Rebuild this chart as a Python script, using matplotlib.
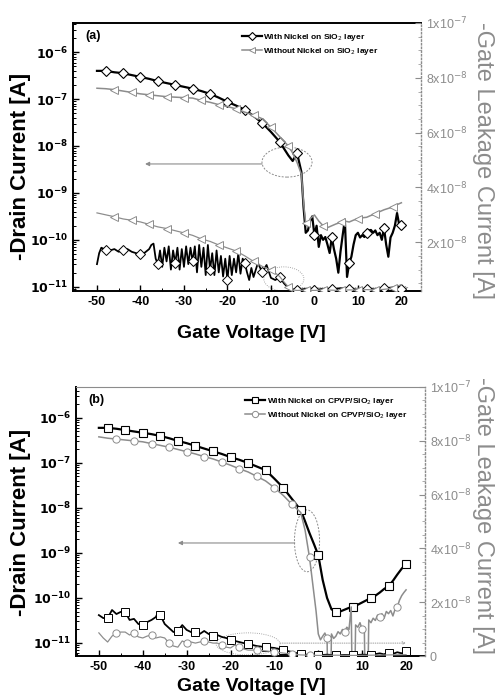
import matplotlib
matplotlib.use("Agg")
import matplotlib.pyplot as plt
import numpy as np
from matplotlib.lines import Line2D
from matplotlib.patches import Ellipse
from matplotlib.ticker import (FixedLocator, FuncFormatter, MultipleLocator,
                               NullFormatter)

plt.rcParams['font.family'] = ['Liberation Sans', 'DejaVu Sans']

# ---- panel (a): SiO2 ----  drain current as (V, log10 I), leakage as (V, I / 1e-8)
drain_a_with = [(-50, -6.40), (-48, -6.40), (-46, -6.43), (-44, -6.45), (-42, -6.49), (-40, -6.53),
                (-38, -6.57), (-36, -6.62), (-34, -6.66), (-32, -6.70), (-30, -6.74), (-28, -6.78),
                (-26, -6.83), (-24, -6.89), (-22, -6.97), (-20, -7.06), (-18, -7.14), (-16, -7.23),
                (-14, -7.36), (-12, -7.51), (-10, -7.70), (-8, -7.91), (-6, -8.20), (-5, -8.32),
                (-4, -8.15), (-3, -8.55), (-2.5, -9.30), (-2, -9.85), (-1.5, -9.80), (-1, -9.60),
                (-0.5, -9.50), (0, -9.90), (0.5, -9.70), (1, -10.15), (1.5, -9.90), (2, -10.00),
                (2.5, -9.94), (3, -10.10), (3.5, -10.28), (4, -9.95), (4.5, -10.20), (5, -10.40),
                (5.5, -10.70), (6, -10.25), (6.5, -9.90), (7, -9.57), (7.5, -10.79), (8, -10.50),
                (8.5, -10.36), (9, -10.10), (9.5, -9.90), (10, -9.85), (10.5, -9.95), (11, -9.90),
                (11.5, -9.94), (12, -9.85), (12.5, -9.80), (13, -9.79), (13.5, -9.85), (14, -9.80),
                (14.5, -9.90), (15, -9.85), (15.5, -10.00), (16, -9.75), (16.5, -10.10), (17, -10.36),
                (17.5, -9.95), (18, -9.85), (18.5, -9.70), (19, -9.43), (19.5, -9.68), (20, -9.68)]
drain_a_without = [(-50, -6.77), (-48, -6.78), (-46, -6.80), (-44, -6.83), (-42, -6.86), (-40, -6.89),
                   (-38, -6.91), (-36, -6.93), (-34, -6.95), (-32, -6.96), (-30, -6.97), (-28, -6.98),
                   (-26, -7.03), (-24, -7.07), (-22, -7.12), (-20, -7.16), (-18, -7.21), (-16, -7.28),
                   (-14, -7.34), (-12, -7.42), (-10, -7.60), (-8, -7.80), (-6, -8.00), (-5, -8.15),
                   (-4, -8.35), (-3, -8.60), (-2.5, -9.20), (-2, -9.65), (-1.5, -9.72), (-1, -9.55),
                   (0, -9.47), (1, -9.60), (2, -9.70), (3, -9.74), (4, -9.70), (5, -9.66), (6, -9.63),
                   (7, -9.60), (8, -9.62), (9, -9.58), (10, -9.55), (11, -9.53), (12, -9.52),
                   (13, -9.48), (14, -9.45), (15, -9.40), (16, -9.36), (17, -9.33), (18, -9.30),
                   (19, -9.25), (20, -9.21)]
leak_a_with = [(-50, 1.20), (-49.5, 1.60), (-49, 1.80), (-48, 1.72), (-47, 1.70), (-46, 1.75),
               (-45, 1.65), (-44, 1.72), (-43, 1.75), (-42, 1.65), (-41, 1.60), (-40, 1.57),
               (-39, 1.62), (-38, 1.75), (-37.5, 1.90), (-37, 1.95), (-36.5, 1.40), (-36, 1.20),
               (-35.5, 1.70), (-35, 1.10), (-34.5, 1.80), (-34, 1.30), (-33.5, 1.85), (-33, 1.00),
               (-32.5, 1.70), (-32, 1.25), (-31.5, 1.80), (-31, 1.00), (-30.5, 1.75), (-30, 1.10),
               (-29.5, 1.85), (-29, 1.20), (-28.5, 1.80), (-28, 1.30), (-27.5, 1.85), (-27, 0.90),
               (-26.5, 1.90), (-26, 1.10), (-25.5, 1.80), (-25, 0.80), (-24.5, 1.90), (-24, 1.00),
               (-23.5, 1.60), (-23, 0.80), (-22.5, 1.70), (-22, 0.90), (-21.5, 1.50), (-21, 0.75),
               (-20.5, 1.40), (-20, 0.62), (-19.5, 1.50), (-19, 0.80), (-18.5, 1.40), (-18, 0.90),
               (-17.5, 1.60), (-17, 0.85), (-16.5, 1.40), (-16, 1.24), (-15.5, 0.90), (-15, 0.62),
               (-14.5, 1.06), (-14, 0.73), (-13, 1.24), (-12, 0.91), (-11, 1.17), (-10, 0.70),
               (-9, 0.62), (-8, 0.73), (-7, 0.50), (-6, 0.33), (-5, 0.20), (-4, 0.25), (-2, 0.30),
               (0, 0.25), (2, 0.30), (4, 0.28), (6, 0.32), (8, 0.30), (10, 0.27), (12, 0.30),
               (14, 0.28), (16, 0.32), (18, 0.35), (19, 0.40), (20, 0.30)]
leak_a_without = [(-50, 3.07), (-48, 3.00), (-46, 2.93), (-44, 2.85), (-42, 2.80), (-40, 2.74),
                  (-38, 2.65), (-36, 2.56), (-34, 2.50), (-32, 2.42), (-30, 2.34), (-28, 2.25),
                  (-26, 2.12), (-24, 2.03), (-22, 1.90), (-20, 1.79), (-18, 1.68), (-16, 1.50),
                  (-14, 1.30), (-12, 1.12), (-10, 0.98), (-9, 0.88), (-8, 0.75), (-7, 0.55),
                  (-6, 0.37), (-5, 0.26), (-4, 0.24), (-2, 0.25), (0, 0.24), (2, 0.26), (4, 0.25),
                  (6, 0.24), (8, 0.26), (10, 0.25), (12, 0.27), (14, 0.26), (16, 0.28), (17, 0.30),
                  (18, 0.34), (19, 0.40), (20, 0.45)]

# ---- panel (b): CPVP/SiO2 ----
drain_b_with = [(-50, -6.22), (-48, -6.22), (-46, -6.24), (-44, -6.27), (-42, -6.30), (-40, -6.33),
                (-38, -6.36), (-36, -6.40), (-34, -6.45), (-32, -6.51), (-30, -6.56), (-28, -6.62),
                (-26, -6.68), (-24, -6.74), (-22, -6.80), (-20, -6.87), (-18, -6.93), (-16, -7.00),
                (-14, -7.08), (-12, -7.16), (-10, -7.35), (-8, -7.55), (-6, -7.80), (-4, -8.05),
                (-3, -8.30), (-2, -8.56), (-1, -8.80), (0, -9.05), (1, -9.60), (2, -10.00),
                (3, -10.25), (4, -10.32), (5, -10.30), (6, -10.26), (7, -10.22), (8, -10.20),
                (9, -10.15), (10, -10.10), (11, -10.05), (12, -10.00), (13, -9.95), (14, -9.88),
                (15, -9.80), (16, -9.74), (17, -9.62), (18, -9.48), (19, -9.35), (20, -9.24)]
drain_b_without = [(-50, -6.42), (-48, -6.45), (-46, -6.47), (-44, -6.49), (-42, -6.51), (-40, -6.53),
                   (-38, -6.57), (-36, -6.61), (-34, -6.65), (-32, -6.70), (-30, -6.75), (-28, -6.80),
                   (-26, -6.86), (-24, -6.91), (-22, -6.98), (-20, -7.05), (-18, -7.13), (-16, -7.20),
                   (-14, -7.30), (-12, -7.40), (-10, -7.55), (-8, -7.72), (-6, -7.92), (-4, -8.10),
                   (-3, -8.50), (-2, -9.10), (-1.5, -9.50), (-1, -9.90), (-0.5, -10.30), (0, -10.80),
                   (0.5, -10.93), (1, -10.85), (1.5, -10.78), (2, -10.90), (2.5, -14), (3, -10.80),
                   (3.5, -10.90), (4, -10.85), (4.5, -10.75), (5, -10.80), (5.5, -10.70), (6, -10.75),
                   (6.5, -10.65), (7, -10.70), (7.5, -10.20), (8, -14), (8.5, -10.60), (9, -10.65),
                   (9.5, -10.55), (10, -10.70), (10.5, -10.75), (11, -14), (11.5, -10.49),
                   (12, -10.55), (12.5, -10.45), (13, -10.50), (13.5, -10.38), (14, -10.42),
                   (14.5, -10.35), (15, -10.45), (15.5, -10.30), (16, -10.35), (16.5, -10.28),
                   (17, -10.40), (17.5, -10.25), (18, -10.20), (18.5, -10.05), (19, -9.95),
                   (19.5, -9.88), (20, -9.82)]
leak_b_with = [(-50, 1.52), (-49, 1.41), (-48, 1.41), (-47, 1.71), (-46, 1.56), (-45, 1.64),
               (-44, 1.64), (-43, 1.34), (-42, 1.38), (-41, 1.19), (-40, 1.15), (-39, 1.26),
               (-38, 1.34), (-37, 1.45), (-36.5, 1.64), (-36, 1.52), (-35, 1.19), (-34, 1.04),
               (-33, 0.89), (-32, 0.93), (-31, 1.15), (-30, 0.97), (-29, 0.89), (-28, 0.89),
               (-27, 0.82), (-26, 0.93), (-25, 0.82), (-24, 0.74), (-23, 0.78), (-22, 0.71),
               (-21, 0.67), (-20, 0.59), (-19, 0.56), (-18, 0.52), (-17, 0.48), (-16, 0.45),
               (-15, 0.41), (-14, 0.37), (-12, 0.33), (-10, 0.30), (-8, 0.22), (-6, 0.15),
               (-4, 0.07), (-2, 0.04), (0, 0.03), (2, 0.05), (4, 0.03), (6, 0.04), (8, 0.03),
               (10, 0.05), (12, 0.04), (14, 0.10), (15, 0.06), (16, 0.12), (17, 0.08),
               (18, 0.14), (19, 0.10), (20, 0.18)]
leak_b_without = [(-50, 0.86), (-49, 0.67), (-48, 0.52), (-47, 0.74), (-46, 0.86), (-45, 0.89),
                  (-44, 0.89), (-43, 0.78), (-42, 0.86), (-41, 0.71), (-40, 0.67), (-39, 0.74),
                  (-38, 0.78), (-37, 0.67), (-36, 0.71), (-35, 0.67), (-34, 0.48), (-33, 0.37),
                  (-32, 0.33), (-31, 0.56), (-30, 0.48), (-29, 0.52), (-28, 0.48), (-27, 0.52),
                  (-26, 0.56), (-25, 0.52), (-24, 0.48), (-23, 0.48), (-22, 0.41), (-21, 0.33),
                  (-20, 0.30), (-19, 0.41), (-18, 0.33), (-17, 0.26), (-16, 0.22), (-14, 0.22),
                  (-12, 0.19), (-10, 0.15), (-8, 0.11), (-6, 0.07), (-4, 0.04), (-2, 0.03),
                  (0, 0.02), (4, 0.03), (8, 0.02), (12, 0.03), (16, 0.04), (20, 0.05)]

x_ticks = [-50, -40, -30, -20, -10, 0, 10, 20]
y_decades = [-11, -10, -9, -8, -7, -6]
r_ticks = [0, 2e-8, 4e-8, 6e-8, 8e-8, 1e-7]
GRAY = '#8c8c8c'


def split(pairs, log=False, scale=1.0):
    arr = np.array(pairs, dtype=float)
    v, y = arr[:, 0], arr[:, 1]
    y = 10 ** y if log else y * scale
    return v, y


def every(v, step, offset=0):
    return [i for i, x in enumerate(v) if (x - offset) % step == 0 and x >= -48]


def log_fmt(val, pos):
    return r'$\mathbf{10^{%d}}$' % round(np.log10(val))


def lin_fmt(val, pos):
    if val < 1e-12:
        return '0'
    e = int(np.floor(np.log10(val) + 1e-9))
    m = int(round(val / 10 ** e))
    return r'%dx10$^{%d}$' % (m, e)


def panel(ax, drains, leaks, markers, labels, tag, xlim, ylim, rlim):
    axr = ax.twinx()
    styles = [dict(color='k', lw=1.6, mec='k', mew=0.8),
              dict(color=GRAY, lw=1.1, mec=GRAY, mew=0.7)]
    handles = []
    for k in range(2):
        v, y = split(drains[k], log=True)
        ax.plot(v, y, marker=markers[k], ms=5.2, mfc='white',
                markevery=every(v, 4, 2 * k), **styles[k])
        v, y = split(leaks[k], scale=1e-8)
        axr.plot(v, y, marker=markers[k], ms=5.2, mfc='white',
                 markevery=every(v, 4, 2 * k), lw=styles[k]['lw'] * 0.8,
                 color=styles[k]['color'], mec=styles[k]['mec'], mew=0.7)
        handles.append(Line2D([], [], marker=markers[k], ms=4.5, mfc='white', **styles[k]))

    ax.set_yscale('log')
    ax.set_xlim(*xlim)
    ax.set_ylim(*ylim)
    majors = [10.0 ** d for d in y_decades]
    minors = [m * 10.0 ** d for d in [-12] + y_decades for m in range(2, 10)
              if ylim[0] <= m * 10.0 ** d <= ylim[1]]
    ax.yaxis.set_major_locator(FixedLocator(majors))
    ax.yaxis.set_minor_locator(FixedLocator(minors))
    ax.yaxis.set_major_formatter(FuncFormatter(log_fmt))
    ax.yaxis.set_minor_formatter(NullFormatter())
    ax.set_xticks(x_ticks)
    ax.set_xticklabels([str(t) for t in x_ticks], fontweight='bold', fontsize=9)
    ax.xaxis.set_minor_locator(MultipleLocator(5))
    ax.tick_params(axis='both', which='major', direction='in', length=4, width=1, labelsize=9)
    ax.tick_params(axis='both', which='minor', direction='in', length=2, width=0.7)
    ax.tick_params(axis='x', which='both', top=False)
    for s in ['left', 'bottom', 'top']:
        ax.spines[s].set_linewidth(1.4)
    ax.spines['right'].set_visible(False)

    axr.set_ylim(*rlim)
    axr.yaxis.set_major_locator(FixedLocator([t for t in r_ticks if rlim[0] <= t <= rlim[1]]))
    axr.yaxis.set_minor_locator(MultipleLocator(0.5e-8))
    axr.yaxis.set_major_formatter(FuncFormatter(lin_fmt))
    axr.tick_params(axis='y', which='major', direction='in', length=4, width=0.8,
                    colors=GRAY, labelsize=9)
    axr.tick_params(axis='y', which='minor', direction='in', length=2, width=0.5, colors=GRAY)
    for s in ['left', 'bottom', 'top']:
        axr.spines[s].set_visible(False)
    axr.spines['right'].set_color(GRAY)
    axr.spines['right'].set_linestyle(':')
    axr.spines['right'].set_linewidth(1.0)

    ax.legend(handles, labels, loc='upper left', bbox_to_anchor=(0.47, 0.985), frameon=False,
              prop=dict(size=6, weight='bold'), handlelength=2.4, handletextpad=0.2,
              labelspacing=0.35, borderaxespad=0.2)
    ax.text(0.035, 0.975, tag, transform=ax.transAxes, fontsize=9, fontweight='bold',
            va='top', ha='left')
    return axr


fig = plt.figure(figsize=(4.97, 6.99), dpi=100)
ax_a = fig.add_axes([0.147, 0.5837, 0.700, 0.3834])
ax_b = fig.add_axes([0.153, 0.0615, 0.702, 0.385])

panel(ax_a, [drain_a_with, drain_a_without], [leak_a_with, leak_a_without], ['D', '<'],
      ['With Nickel on SiO$_2$ layer', 'Without Nickel on SiO$_2$ layer'], '(a)',
      (-55.5, 24.5), (10 ** -11.09, 10 ** -5.38), (2.2e-9, 1.0e-7))
panel(ax_b, [drain_b_with, drain_b_without], [leak_b_with, leak_b_without], ['s', 'o'],
      ['With Nickel on CPVP/SiO$_2$ layer', 'Without Nickel on CPVP/SiO$_2$ layer'], '(b)',
      (-55.2, 24.3), (10 ** -11.29, 10 ** -5.31), (0, 1.0e-7))
ax_b.spines['top'].set_color(GRAY)
ax_b.spines['top'].set_linewidth(0.8)

# annotations: circled on-set region with arrow to the left axis, dotted ring on leakage
ell = dict(fill=False, ec=GRAY, lw=0.7, ls=(0, (2, 1.5)))
arr = dict(arrowstyle='-|>', color=GRAY, lw=0.8, mutation_scale=6, shrinkA=0, shrinkB=0)
dot = dict(arrowstyle='->', color=GRAY, lw=0.6, ls=':', mutation_scale=5, shrinkA=0, shrinkB=0)

ax_a.add_patch(Ellipse((0.615, 0.481), 0.144, 0.112, transform=ax_a.transAxes, **ell))
ax_a.annotate('', xy=(0.207, 0.474), xytext=(0.543, 0.474), xycoords='axes fraction', arrowprops=arr)
ax_a.add_patch(Ellipse((0.606, 0.045), 0.115, 0.09, transform=ax_a.transAxes,
                       fill=False, ec=GRAY, lw=0.6, ls=':'))
ax_a.annotate('', xy=(0.965, 0.012), xytext=(0.652, 0.012), xycoords='axes fraction', arrowprops=dot)

ax_b.add_patch(Ellipse((0.662, 0.428), 0.072, 0.23, transform=ax_b.transAxes, **ell))
ax_b.annotate('', xy=(0.292, 0.42), xytext=(0.627, 0.42), xycoords='axes fraction', arrowprops=arr)
ax_b.add_patch(Ellipse((0.493, 0.045), 0.183, 0.082, transform=ax_b.transAxes,
                       fill=False, ec=GRAY, lw=0.6, ls=':'))
ax_b.annotate('', xy=(0.945, 0.048), xytext=(0.585, 0.048), xycoords='axes fraction', arrowprops=dot)

# axis titles: (left centre, right centre, x-label baseline) per panel
for yc_left, yc_right, yx in [(0.762, 0.770, 0.511), (0.252, 0.262, 0.006)]:
    fig.text(0.042, yc_left, '-Drain Current [A]', rotation=90, fontsize=16,
             fontweight='bold', ha='center', va='center')
    fig.text(0.971, yc_right, '-Gate Leakage Current [A]', rotation=270, fontsize=17,
             color=GRAY, ha='center', va='center')
    fig.text(0.505, yx, 'Gate Voltage [V]', fontsize=14, fontweight='bold',
             ha='center', va='bottom')

fig.savefig('out.png', dpi=100)
